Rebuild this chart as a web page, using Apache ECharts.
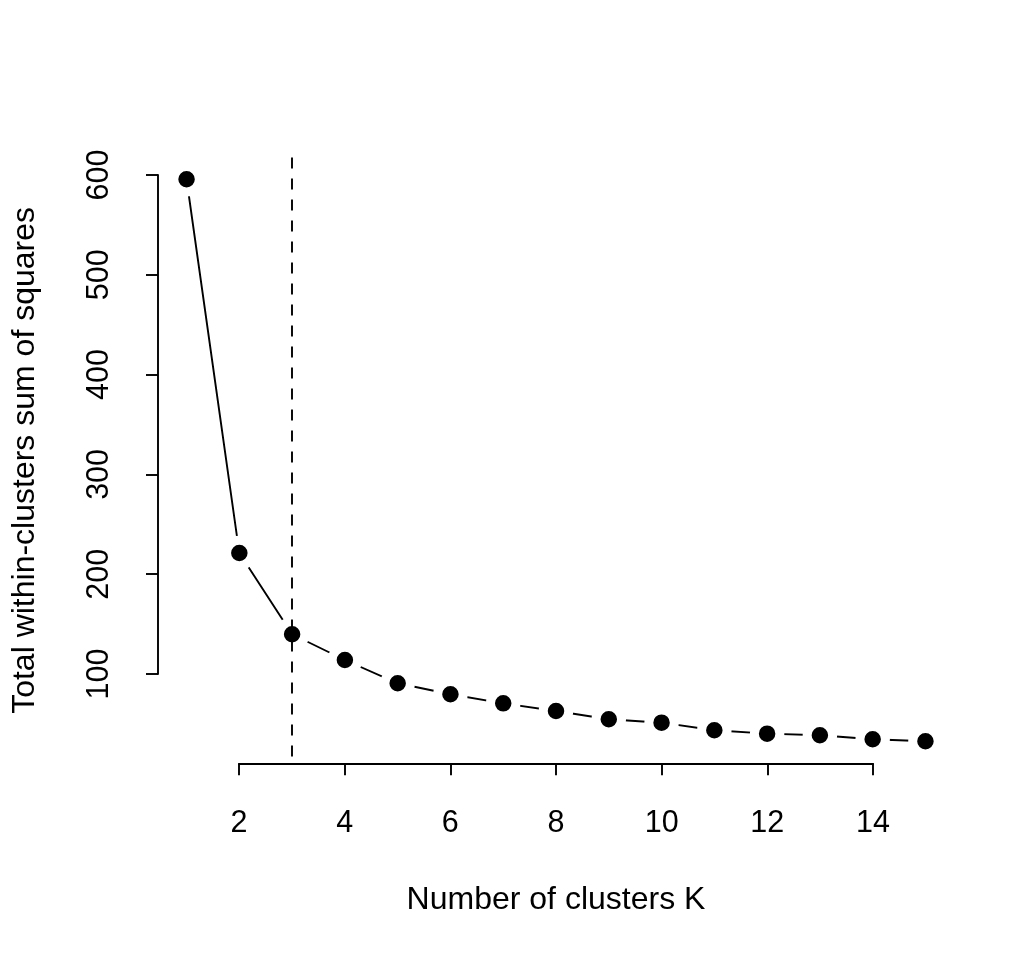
<!DOCTYPE html>
<html lang="en">

<head>
    <meta charset="UTF-8">
    <title>Elbow plot</title>
    <script src="https://cdn.jsdelivr.net/npm/echarts@6/dist/echarts.min.js"></script>
    <style>
        html, body { margin: 0; padding: 0; background: #fff; }
        #main { width: 1036px; height: 960px; }
    </style>
</head>

<body>
    <div id="main"></div>
    <script type="text/javascript">
        // number of clusters and total within-cluster sum of squares
        var clusterK = [1, 2, 3, 4, 5, 6, 7, 8, 9, 10, 11, 12, 13, 14, 15];
        var totalWss = [595.7, 221.2, 139.8, 114, 90.7, 79.7, 70.6, 62.9, 54.6, 51.2, 43.6, 40.2, 38.6, 34.6, 32.6];
        // chosen k (dashed line)
        var chosenK = [3];
        // tick labels of the two axes
        var xTicks = [2, 4, 6, 8, 10, 12, 14];
        var yTicks = [100, 200, 300, 400, 500, 600];

        // plot region limits (data range + 4%, like R)
        var xLim = [0.44, 15.56];
        var yLim = [10.5, 617.5];

        var font = 'Liberation Sans, Arial, Helvetica, sans-serif';
        var myChart = echarts.init(document.getElementById('main'));

        var points = clusterK.map(function (k, i) { return [k, totalWss[i]]; });

        var option = {
            backgroundColor: '#fff',
            animation: false,
            grid: [
                // plot region
                { left: 157, top: 157.5, width: 798, height: 605.8 },
                // x axis only spans the ticks
                { left: 239, top: 157.5, width: 634, height: 605.8 },
                // y axis only spans the ticks
                { left: 158, top: 175, width: 700, height: 499 }
            ],
            xAxis: [{
                gridIndex: 0, type: 'value', min: xLim[0], max: xLim[1],
                axisLine: { show: false }, axisTick: { show: false },
                axisLabel: { show: false }, splitLine: { show: false },
                name: 'Number of clusters K', nameLocation: 'middle', nameGap: 121,
                nameTextStyle: { color: '#000', fontSize: 32, fontFamily: font }
            }, {
                gridIndex: 1, type: 'value',
                min: xTicks[0], max: xTicks[xTicks.length - 1], interval: xTicks[1] - xTicks[0],
                axisLine: { show: true, lineStyle: { color: '#000', width: 1.9 } },
                axisTick: { show: true, inside: false, length: 12, lineStyle: { color: '#000', width: 1.9 } },
                axisLabel: { color: '#000', fontSize: 30.5, fontFamily: font, margin: 45, lineHeight: 30,
                    showMinLabel: true, showMaxLabel: true },
                splitLine: { show: false }
            }, {
                gridIndex: 2, type: 'value', min: 0, max: 1, show: false
            }],
            yAxis: [{
                gridIndex: 0, type: 'value', min: yLim[0], max: yLim[1],
                axisLine: { show: false }, axisTick: { show: false },
                axisLabel: { show: false }, splitLine: { show: false },
                name: 'Total within-clusters sum of squares', nameLocation: 'middle',
                nameRotate: 90, nameGap: 116,
                nameTextStyle: { color: '#000', fontSize: 32, fontFamily: font }
            }, {
                gridIndex: 1, type: 'value', min: 0, max: 1, show: false
            }, {
                gridIndex: 2, type: 'value',
                min: yTicks[0], max: yTicks[yTicks.length - 1], interval: yTicks[1] - yTicks[0],
                axisLine: { show: true, lineStyle: { color: '#000', width: 1.9 } },
                axisTick: { show: true, inside: false, length: 12, lineStyle: { color: '#000', width: 1.9 } },
                axisLabel: { color: '#000', fontSize: 30.5, fontFamily: font, margin: 43, lineHeight: 30,
                    rotate: 90, showMinLabel: true, showMaxLabel: true },
                splitLine: { show: false }
            }],
            series: [{
                // points with gaps in the line (R type = "b"): white ring around each dot
                type: 'line',
                xAxisIndex: 0, yAxisIndex: 0,
                data: points,
                z: 2,
                symbol: 'circle',
                symbolSize: 25.5,
                showAllSymbol: true,
                lineStyle: { color: '#000', width: 1.9 },
                itemStyle: { color: '#000', borderColor: '#fff', borderWidth: 9 },
                emphasis: { disabled: true },
                silent: true
            }, {
                // dashed vertical line at the chosen k
                type: 'line',
                xAxisIndex: 0, yAxisIndex: 0,
                data: [],
                z: 5,
                markLine: {
                    silent: true,
                    symbol: ['none', 'none'],
                    label: { show: false },
                    lineStyle: { color: '#000', width: 1.9, type: [11, 10] },
                    emphasis: { disabled: true },
                    data: [[{ coord: [chosenK[0], yLim[1]] }, { coord: [chosenK[0], yLim[0]] }]]
                }
            }]
        };

        myChart.setOption(option);
    </script>
</body>

</html>
